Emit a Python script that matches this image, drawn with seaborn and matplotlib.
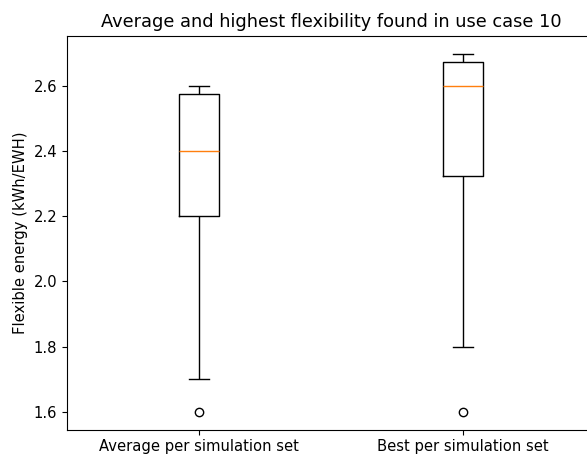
import matplotlib
matplotlib.use("Agg")
import matplotlib.pyplot as plt
import seaborn as sns
import pandas as pd

categories = ["Average per simulation set", "Best per simulation set"]
avg_values = [1.6, 1.7, 2.2, 2.2, 2.4, 2.4, 2.5, 2.6, 2.6, 2.6]
best_values = [1.6, 1.8, 2.3, 2.4, 2.6, 2.6, 2.6, 2.7, 2.7, 2.7]
title = "Average and highest flexibility found in use case 10"
ylabel = "Flexible energy (kWh/EWH)"

df = pd.DataFrame({
    "set": [categories[0]] * len(avg_values) + [categories[1]] * len(best_values),
    "value": avg_values + best_values,
})

fig = plt.figure(figsize=(5.87, 4.54), dpi=100)
ax = fig.add_axes([67 / 587, 1 - 429.6 / 454, 528 / 587, 394 / 454])

sns.boxplot(
    data=df, x="set", y="value", order=categories, ax=ax,
    width=0.15, fill=False, color="black", linewidth=1.0,
    medianprops={"color": "#ff7f0e", "linewidth": 1.0},
    flierprops={"marker": "o", "markerfacecolor": "none",
                "markeredgecolor": "black", "markersize": 6},
    whiskerprops={"color": "black"}, capprops={"color": "black"},
)

ax.set_title(title, fontsize=12.8, pad=6)
ax.set_xlabel("")
ax.set_ylabel(ylabel, fontsize=10.6)
ax.set_yticks([1.6, 1.8, 2.0, 2.2, 2.4, 2.6])
ax.tick_params(labelsize=10.6)

fig.savefig("out.png", dpi=100)
